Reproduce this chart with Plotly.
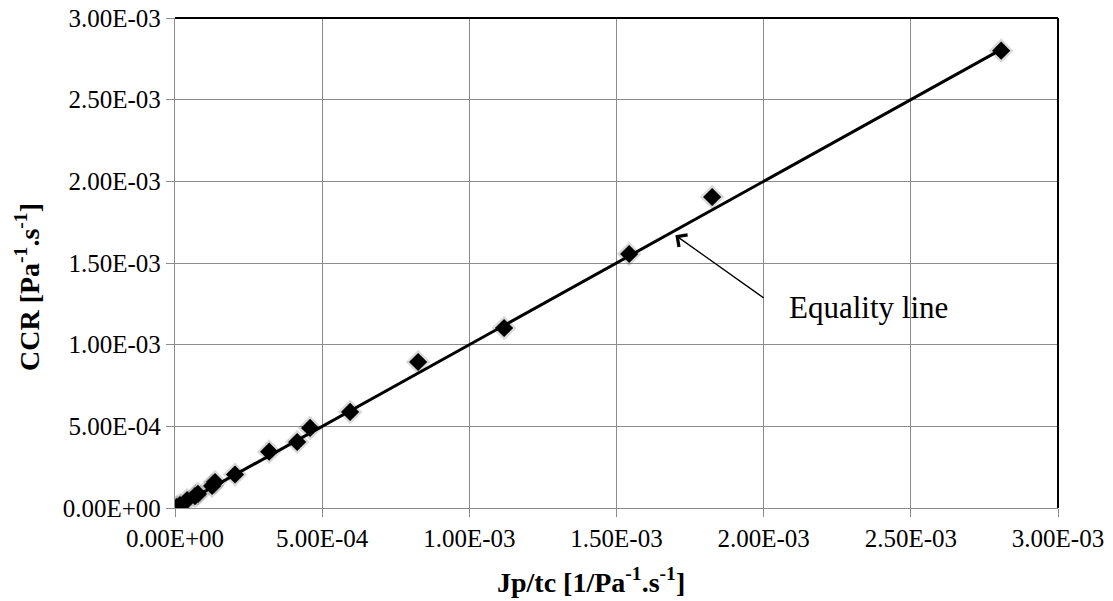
import plotly.graph_objects as go

# Data
jp_tc = [5e-6, 1.7e-5, 4.1e-5, 6.8e-5, 7.8e-5, 1.26e-4, 1.36e-4, 2.04e-4, 3.2e-4,
         4.15e-4, 4.59e-4, 5.95e-4, 8.26e-4, 1.118e-3, 1.543e-3, 1.825e-3, 2.807e-3]
ccr = [5e-6, 1.8e-5, 4.9e-5, 7.3e-5, 8.6e-5, 1.35e-4, 1.59e-4, 2.05e-4, 3.45e-4,
       4.04e-4, 4.9e-4, 5.88e-4, 8.94e-4, 1.102e-3, 1.555e-3, 1.904e-3, 2.80e-3]

equality_x = [0.0, 2.8e-3]
equality_y = [0.0, 2.8e-3]

tick_vals = [0.0, 5e-4, 1e-3, 1.5e-3, 2e-3, 2.5e-3, 3e-3]
tick_text = ["0.00E+00", "5.00E-04", "1.00E-03", "1.50E-03", "2.00E-03", "2.50E-03", "3.00E-03"]

FONT = "Liberation Serif, Times New Roman, serif"

fig = go.Figure()

# soft shadow behind markers
fig.add_trace(go.Scatter(
    x=jp_tc, y=ccr, mode="markers",
    marker=dict(symbol="diamond", size=19, color="rgba(0,0,0,0.15)", line=dict(width=0)),
    hoverinfo="skip", showlegend=False))

fig.add_trace(go.Scatter(
    x=jp_tc, y=ccr, mode="markers",
    marker=dict(symbol="diamond", size=14, color="black", line=dict(width=0)),
    showlegend=False, name="CCR"))

fig.add_trace(go.Scatter(
    x=equality_x, y=equality_y, mode="lines",
    line=dict(color="black", width=3), showlegend=False, name="Equality line"))

axis_common = dict(
    range=[0, 3e-3],
    tickvals=tick_vals, ticktext=tick_text,
    showgrid=True, gridcolor="#8c8c8c", gridwidth=1.3,
    showline=True, linecolor="#8c8c8c", linewidth=1.3,
    ticks="outside", ticklen=8, tickcolor="#8c8c8c", tickwidth=1.3,
    zeroline=False,
    automargin=False,
    ticklabeloverflow="allow",
    tickfont=dict(family=FONT, size=25, color="black"),
)

fig.update_xaxes(**axis_common)
fig.update_yaxes(**axis_common)

# black top and right border
fig.add_shape(type="line", xref="paper", yref="paper", x0=0, x1=1, y0=1, y1=1,
              line=dict(color="black", width=2))
fig.add_shape(type="line", xref="paper", yref="paper", x0=1, x1=1, y0=0, y1=1,
              line=dict(color="black", width=2))

# axis titles
fig.add_annotation(
    text="<b>Jp/tc [1/Pa<sup>-1</sup>.s<sup>-1</sup>]</b>",
    xref="paper", yref="paper", x=0.5, y=0, xanchor="center", yanchor="middle",
    xshift=-26, yshift=-72, showarrow=False,
    font=dict(family=FONT, size=28, color="black"))
fig.add_annotation(
    text="<b>CCR [Pa<sup>-1</sup>.s<sup>-1</sup>]</b>",
    xref="paper", yref="paper", x=0, y=0.5, xanchor="center", yanchor="middle",
    xshift=-148, yshift=-24, textangle=-90, showarrow=False,
    font=dict(family=FONT, size=28, color="black"))

fig.add_annotation(
    x=1.70e-3, y=1.67e-3, xref="x", yref="y",
    ax=2.005e-3, ay=1.28e-3, axref="x", ayref="y",
    showarrow=True, arrowhead=4, arrowsize=2.2, arrowwidth=1.3, arrowcolor="black",
    text="")
fig.add_annotation(
    x=2.08e-3, y=1.23e-3, xref="x", yref="y",
    text="Equality line", showarrow=False, xanchor="left", yanchor="middle",
    font=dict(family=FONT, size=31, color="black"))

# page body adds an 8px margin, so the figure is sized/offset to compensate
fig.update_layout(
    width=1097, height=593,
    margin=dict(l=167, r=47, t=10, b=93),
    paper_bgcolor="white", plot_bgcolor="white",
    font=dict(family=FONT, color="black"),
)

fig.write_html("out.html")
